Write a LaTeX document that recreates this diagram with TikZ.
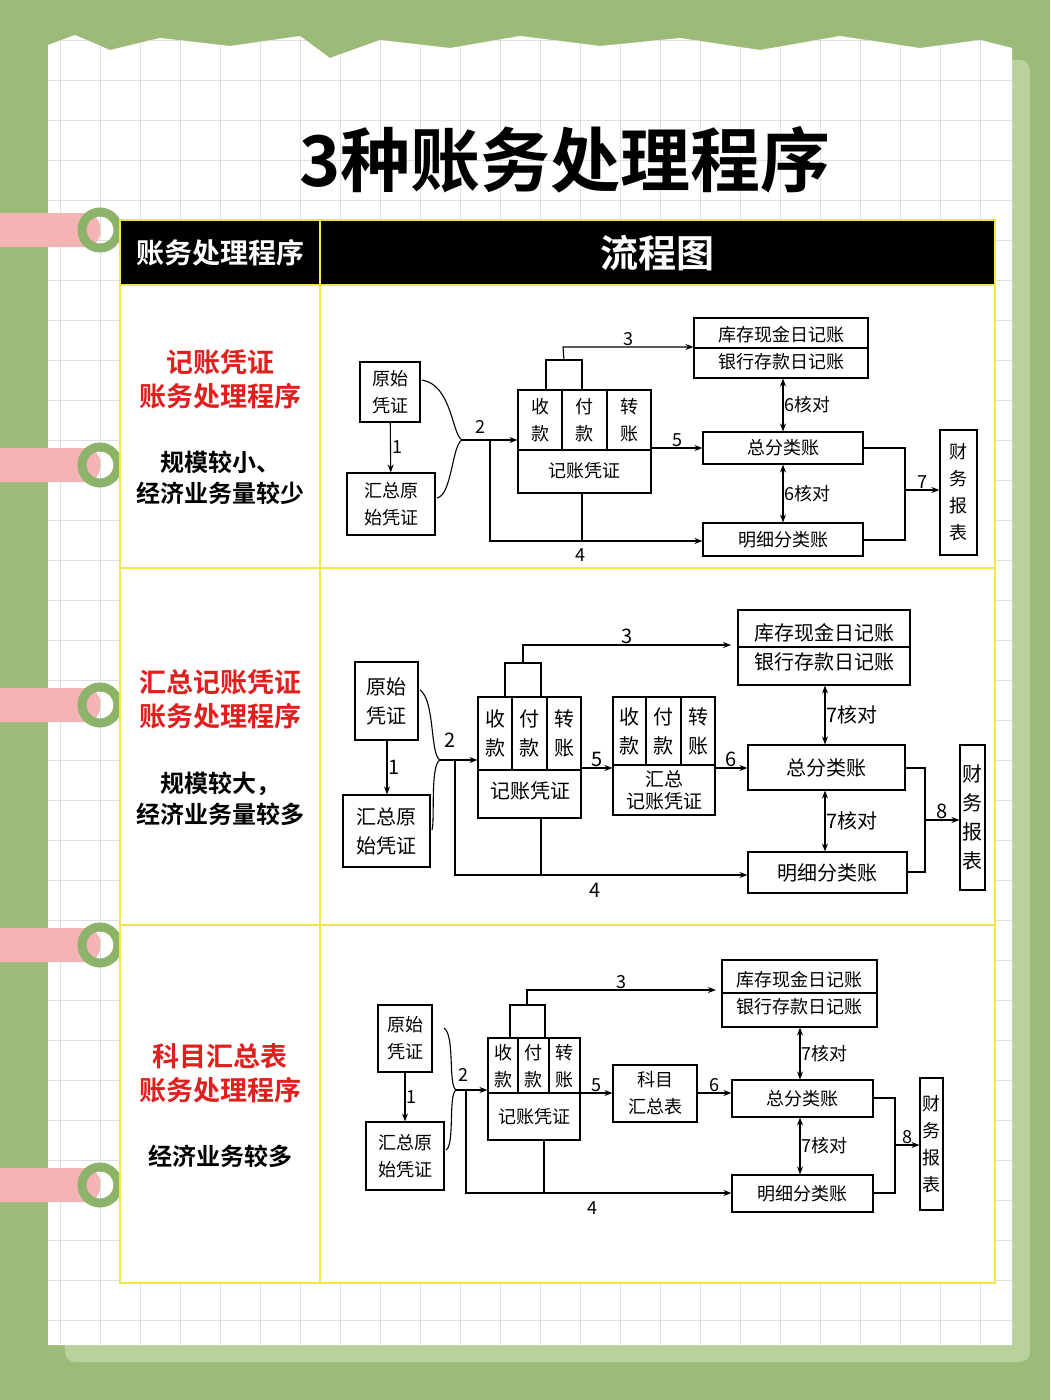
\documentclass[tikz,border=0pt]{standalone}
\usepackage{fontspec}
\setmainfont{Noto Sans CJK SC}
\newfontfamily\bcjk{Noto Sans CJK SC Bold}
\usetikzlibrary{arrows.meta}
\definecolor{bggreen}{HTML}{9DBB78}
\definecolor{shgreen}{HTML}{B9D19A}
\definecolor{tabpink}{HTML}{F4B3B5}
\definecolor{ringgreen}{HTML}{8DB26A}
\definecolor{ylw}{HTML}{F2E64A}
\definecolor{redt}{HTML}{E0201E}
\tikzset{
  bx/.style={draw=black,line width=1.1pt,fill=white,inner sep=0pt,align=center},
  ln/.style={line width=1.1pt},
  ar/.style={line width=1.1pt,-{Stealth[length=8pt,width=6pt]}},
  dar/.style={line width=1.1pt,{Stealth[length=8pt,width=6pt]}-{Stealth[length=8pt,width=6pt]}},
  lb/.style={inner sep=1pt},
  tx/.style={inner sep=0pt,align=center},
  redh/.style={tx,redt,font=\bcjk\fontsize{27}{34}\selectfont},
  blkh/.style={tx,font=\bcjk\fontsize{24}{31}\selectfont},
}
\newcommand{\bxx}[6]{\node[bx,minimum width=#4pt-#2pt,minimum height=#5pt-#3pt] (#1) at ({(#2+#4)/2},{(#3+#5)/2}) {#6};}
\begin{document}
\begin{tikzpicture}[x=1pt,y=-1pt]
\useasboundingbox (0,0) rectangle (1050,1400);
\fill[bggreen] (0,0) rectangle (1050,1400);
\fill[shgreen,rounded corners=10] (65,60) rectangle (1030,1362);
\fill[white] (48,1345) -- (48,45) -- (75,35) -- (110,50) -- (160,38) -- (230,46) -- (300,36) -- (330,58) -- (380,40) -- (450,48) -- (520,36) -- (600,46) -- (680,38) -- (760,50) -- (840,36) -- (920,48) -- (980,40) -- (1012,48) -- (1012,1345) -- cycle;
\begin{scope}
\clip (48,1345) -- (48,45) -- (75,35) -- (110,50) -- (160,38) -- (230,46) -- (300,36) -- (330,58) -- (380,40) -- (450,48) -- (520,36) -- (600,46) -- (680,38) -- (760,50) -- (840,36) -- (920,48) -- (980,40) -- (1012,48) -- (1012,1345) -- cycle;
\foreach \x in {60,100,...,1010} \draw[gray!25,line width=0.8pt] (\x,30) -- (\x,1350);
\foreach \y in {40,80,...,1345} \draw[gray!25,line width=0.8pt] (40,\y) -- (1015,\y);
\end{scope}
\foreach \yy [count=\i] in {230,465,705,945,1185}{
  \fill[tabpink,rounded corners=14] (-20,\yy-17) rectangle (100,\yy+17);
  \draw[ringgreen,line width=9pt] (100,\yy) circle (18);
}
\node[tx,font=\bcjk\fontsize{70}{80}\selectfont] (title) at (565,160) {3种账务处理程序};
\fill[white] (120,285) rectangle (995,1283);
\fill[black] (120,220) rectangle (995,285);
\draw[ylw,line width=2pt] (120,220) rectangle (995,1283);
\draw[ylw,line width=2pt] (320,220) -- (320,1283);
\draw[ylw,line width=2pt] (120,285) -- (995,285);
\draw[ylw,line width=2pt] (120,568) -- (995,568);
\draw[ylw,line width=2pt] (120,925) -- (995,925);
\node[tx,white,font=\bcjk\fontsize{28}{32}\selectfont] (h1) at (220,253) {账务处理程序};
\node[tx,white,font=\bcjk\fontsize{38}{44}\selectfont] (h2) at (657,253) {流程图};
\node[redh] (l1) at (220,379) {记账凭证\\账务处理程序};
\node[blkh] (l1b) at (220,478) {规模较小、\\经济业务量较少};
\node[redh] (l2) at (220,699) {汇总记账凭证\\账务处理程序};
\node[blkh] (l2b) at (220,799) {规模较大，\\经济业务量较多};
\node[redh] (l3) at (220,1073) {科目汇总表\\账务处理程序};
\node[blkh] (l3b) at (220,1156) {经济业务较多};

%% ===== Section 1 =====
\begin{scope}[font=\fontsize{18}{27}\selectfont]
\bxx{a1}{360}{362}{420}{422}{原始\\凭证}
\bxx{b1}{347}{473}{435}{535}{汇总原\\始凭证}
\draw[ar] (a1) -- node[lb,right]{1} (b1);
\draw[ln] (422,380) .. controls (452,385) and (452,435) .. (462,440) .. controls (452,445) and (452,495) .. (437,498);
\coordinate (j1) at (462,440);
\coordinate (k1) at (490,440);
\node[lb] at (480,427) {2};
\bxx{t1}{546}{360}{582}{390}{}
\bxx{c1}{518}{390}{651}{493}{}
\draw[ln] (518,450) -- (651,450) (562,390) -- (562,450) (607,390) -- (607,450);
\node[tx] at (540,420) {收\\款}; \node[tx] at (584,420) {付\\款}; \node[tx] at (629,420) {转\\账};
\node[tx] at (584,471) {记账凭证};
\draw[ar] (j1) -- (c1.west|-j1);
\bxx{d1}{694}{318}{868}{378}{库存现金日记账\\银行存款日记账}
\draw[ln] (694,348) -- (868,348);
\bxx{g1}{703}{432}{863}{464}{总分类账}
\bxx{m1}{703}{523}{863}{556}{明细分类账}
\draw[ar] (t1.north) -- (563,347) -- node[lb,above]{3} (d1.west|-0,347);
\draw[dar] (d1.south-|783,0) -- node[lb,right]{6核对} (g1.north-|783,0);
\draw[dar] (g1.south-|783,0) -- node[lb,right]{6核对} (m1.north-|783,0);
\draw[ar] (c1.east|-g1) -- node[lb,above]{5} (g1.west);
\draw[ar] (k1) -- (490,541) -- (m1.west|-0,541);
\draw[ln] (c1.south-|582,0) -- (582,541);
\node[lb] at (580,555) {4};
\bxx{r1}{940}{430}{977}{555}{财\\务\\报\\表}
\draw[ln] (g1.east) -- (905,448) -- (905,540) -- (m1.east|-0,540);
\draw[ar] (905,490) -- node[lb,above]{7} (r1.west|-0,490);
\end{scope}

%% ===== Section 2 =====
\begin{scope}[font=\fontsize{20}{29}\selectfont]
\bxx{a2}{355}{662}{418}{740}{原始\\凭证}
\bxx{b2}{343}{795}{430}{867}{汇总原\\始凭证}
\draw[ar] (a2.south-|387,0) -- node[lb,right]{1} (b2.north-|387,0);
\draw[ln] (420,690) .. controls (435,700) and (430,755) .. (440,760) .. controls (430,765) and (435,820) .. (432,830);
\coordinate (j2) at (440,760);
\coordinate (k2) at (455,760);
\node[lb] at (450,740) {2};
\bxx{t2}{505}{663}{541}{697}{}
\bxx{c2}{478}{697}{581}{818}{}
\draw[ln] (478,770) -- (581,770) (512,697) -- (512,770) (547,697) -- (547,770);
\node[tx] at (495,733) {收\\款}; \node[tx] at (529,733) {付\\款}; \node[tx] at (564,733) {转\\账};
\node[tx] at (530,791) {记账凭证};
\draw[ar] (j2) -- (c2.west|-j2);
\bxx{e2}{613}{697}{715}{815}{}
\draw[ln] (613,765) -- (715,765) (646,697) -- (646,765) (681,697) -- (681,765);
\node[tx] at (629,731) {收\\款}; \node[tx] at (663,731) {付\\款}; \node[tx] at (698,731) {转\\账};
\node[tx,font=\fontsize{19}{22}\selectfont] at (664,790) {汇总\\记账凭证};
\draw[ar] (c2.east|-0,768) -- node[lb,above]{5} (e2.west|-0,768);
\bxx{d2}{738}{610}{910}{685}{库存现金日记账\\银行存款日记账}
\draw[ln] (738,647) -- (910,647);
\bxx{g2}{748}{745}{905}{790}{总分类账}
\bxx{m2}{748}{852}{907}{893}{明细分类账}
\draw[ar] (e2.east|-0,768) -- node[lb,above]{6} (g2.west|-0,768);
\draw[ar] (t2.north-|523,0) -- (523,645) -- node[lb,above]{3} (731,645);
\draw[dar] (d2.south-|825,0) -- node[lb,right]{7核对} (g2.north-|825,0);
\draw[dar] (g2.south-|825,0) -- node[lb,right]{7核对} (m2.north-|825,0);
\draw[ar] (k2) -- (455,875) -- (m2.west|-0,875);
\draw[ln] (c2.south-|541,0) -- (541,875);
\node[lb] at (595,890) {4};
\bxx{r2}{960}{745}{985}{890}{财\\务\\报\\表}
\draw[ln] (g2.east|-0,768) -- (925,768) -- (925,872) -- (m2.east|-0,872);
\draw[ar] (925,820) -- node[lb,above]{8} (r2.west|-0,820);
\end{scope}

%% ===== Section 3 =====
\begin{scope}[font=\fontsize{18}{27}\selectfont]
\bxx{a3}{378}{1005}{432}{1072}{原始\\凭证}
\bxx{b3}{366}{1122}{444}{1190}{汇总原\\始凭证}
\draw[ar] (a3.south-|405,0) -- node[lb,right]{1} (b3.north-|405,0);
\draw[ln] (444,1028) .. controls (455,1035) and (448,1085) .. (456,1090) .. controls (448,1095) and (455,1145) .. (446,1150);
\coordinate (j3) at (456,1090);
\coordinate (k3) at (466,1090);
\node[lb] at (463,1075) {2};
\bxx{t3}{510}{1005}{545}{1038}{}
\bxx{c3}{488}{1038}{580}{1140}{}
\draw[ln] (488,1093) -- (580,1093) (518,1038) -- (518,1093) (549,1038) -- (549,1093);
\node[tx] at (503,1066) {收\\款}; \node[tx] at (533,1066) {付\\款}; \node[tx] at (564,1066) {转\\账};
\node[tx] at (534,1117) {记账凭证};
\draw[ar] (j3) -- (c3.west|-j3);
\bxx{e3}{613}{1065}{697}{1122}{科目\\汇总表}
\draw[ar] (c3.east|-0,1093) -- node[lb,above]{5} (e3.west|-0,1093);
\bxx{d3}{722}{960}{877}{1027}{库存现金日记账\\银行存款日记账}
\draw[ln] (722,993) -- (877,993);
\bxx{g3}{732}{1080}{873}{1117}{总分类账}
\bxx{m3}{732}{1175}{873}{1212}{明细分类账}
\draw[ar] (e3.east|-0,1093) -- node[lb,above]{6} (g3.west|-0,1093);
\draw[ar] (t3.north-|527,0) -- (527,990) -- node[lb,above]{3} (716,990);
\draw[dar] (d3.south-|800,0) -- node[lb,right]{7核对} (g3.north-|800,0);
\draw[dar] (g3.south-|800,0) -- node[lb,right]{7核对} (m3.north-|800,0);
\draw[ar] (k3) -- (466,1193) -- (m3.west|-0,1193);
\draw[ln] (c3.south-|544,0) -- (544,1193);
\node[lb] at (592,1208) {4};
\bxx{r3}{920}{1078}{943}{1210}{财\\务\\报\\表}
\draw[ln] (g3.east|-0,1098) -- (895,1098) -- (895,1193) -- (m3.east|-0,1193);
\draw[ar] (895,1145) -- node[lb,above]{8} (r3.west|-0,1145);
\end{scope}
\end{tikzpicture}
\end{document}
